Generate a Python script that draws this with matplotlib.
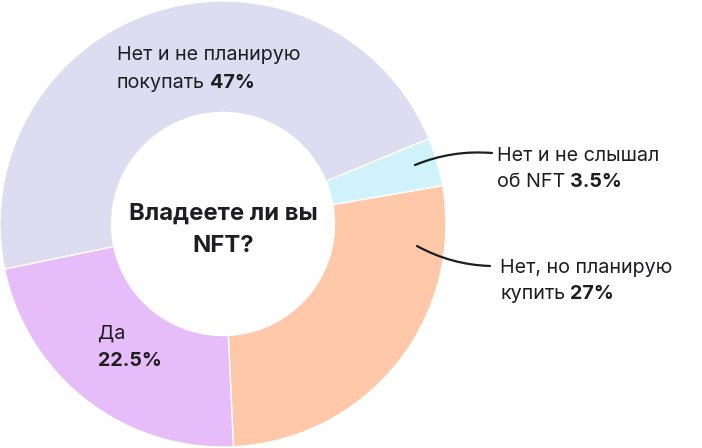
import matplotlib
matplotlib.use("Agg")
import matplotlib.pyplot as plt

plt.rcParams['font.family'] = ['Inter', 'DejaVu Sans']

# data
labels = ["Нет и не планирую покупать", "Нет и не слышал об NFT", "Нет, но планирую купить", "Да"]
values = [47, 3.5, 27, 22.5]
colors = ["#dedcf0", "#d0f3fb", "#ffc8a8", "#e6bdf9"]
title = ["Владеете ли вы", "NFT?"]

TXT = "#1d1d22"
FS = 14.2

fig = plt.figure(figsize=(7.02, 4.48), dpi=100)
ax = fig.add_axes([0, 0, 1, 1])

cx, cy, R = 223, 448 - 224, 223
ax.pie(values, colors=colors, startangle=191.7, counterclock=False,
       center=(cx, cy), radius=R, frame=True,
       wedgeprops=dict(width=R - 111.5, edgecolor='white', linewidth=1))
ax.set_xlim(0, 702)
ax.set_ylim(0, 448)
ax.set_aspect('equal')
ax.axis('off')


def label(x, y, reg, bold=None, fs=FS):
    # y in pixel coords from top
    t = ax.text(x, 448 - y, reg, fontsize=fs, color=TXT, ha='left', va='center')
    if bold:
        ax.annotate(bold, xy=(1, 0.5), xycoords=t, xytext=(3.5, 0), textcoords='offset points',
                    fontsize=fs, fontweight='bold', color=TXT, ha='left', va='center')
    return t


label(117, 55, "Нет и не планирую")
label(117, 83, "покупать", "47%")
label(497, 156, "Нет и не слышал")
label(497, 182, "об NFT", "3.5%")
label(500, 268, "Нет, но планирую")
label(500, 294, "купить", "27%")
label(98, 334, "Да")
ax.text(98, 448 - 361, "22.5%", fontsize=FS, fontweight='bold', color=TXT, ha='left', va='center')

ax.text(cx, 448 - 214, title[0], fontsize=17.2, fontweight='bold', color=TXT, ha='center', va='center')
ax.text(cx, 448 - 246, title[1], fontsize=17.2, fontweight='bold', color=TXT, ha='center', va='center')

# leader lines
ax.annotate("", xy=(415, 448 - 165), xytext=(492, 448 - 153),
            arrowprops=dict(arrowstyle='-', color=TXT, lw=1.6, shrinkA=0, shrinkB=0,
                            connectionstyle='arc3,rad=0.12'))
ax.annotate("", xy=(417, 448 - 246), xytext=(490, 448 - 266),
            arrowprops=dict(arrowstyle='-', color=TXT, lw=1.6, shrinkA=0, shrinkB=0,
                            connectionstyle='arc3,rad=-0.12'))

fig.savefig("out.png", dpi=100)
